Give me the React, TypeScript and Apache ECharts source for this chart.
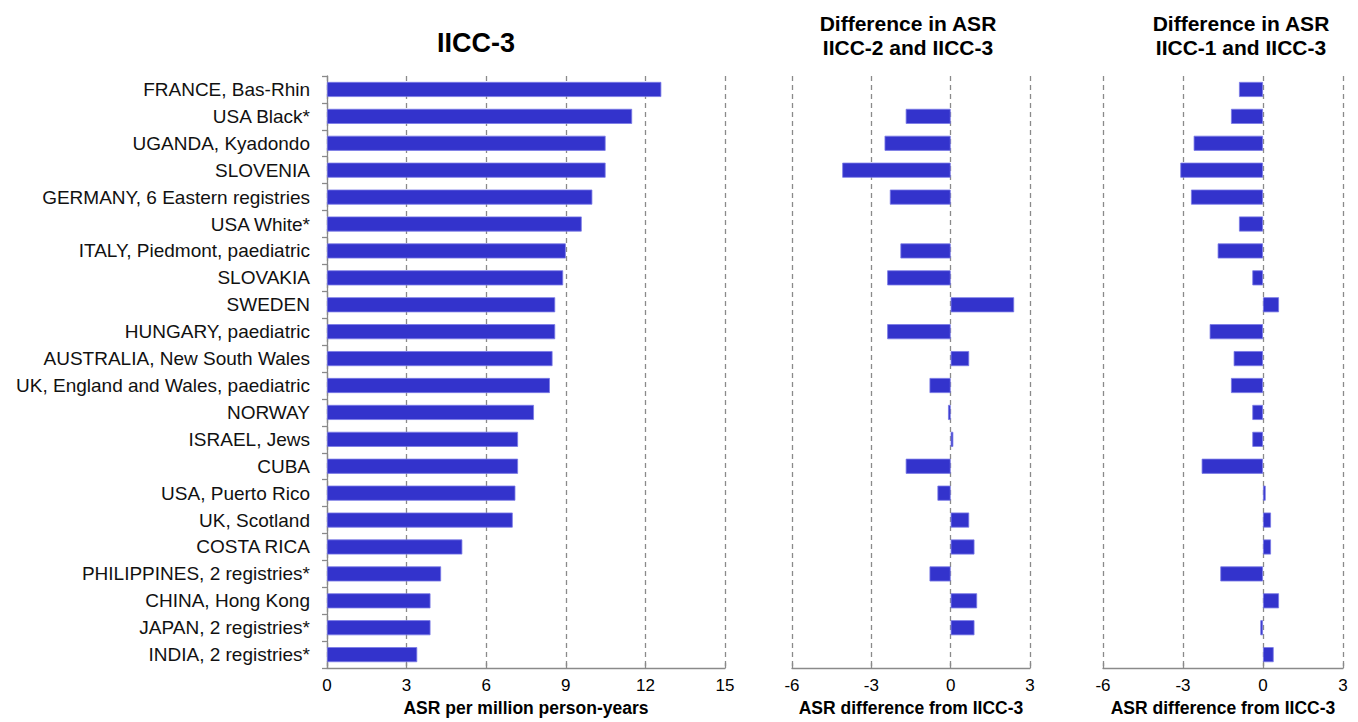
import React, { useEffect, useRef } from "react";
import * as echarts from "echarts";

const categories = [
  "FRANCE, Bas-Rhin",
  "USA Black*",
  "UGANDA, Kyadondo",
  "SLOVENIA",
  "GERMANY, 6 Eastern registries",
  "USA White*",
  "ITALY, Piedmont, paediatric",
  "SLOVAKIA",
  "SWEDEN",
  "HUNGARY, paediatric",
  "AUSTRALIA, New South Wales",
  "UK, England and Wales, paediatric",
  "NORWAY",
  "ISRAEL, Jews",
  "CUBA",
  "USA, Puerto Rico",
  "UK, Scotland",
  "COSTA RICA",
  "PHILIPPINES, 2 registries*",
  "CHINA, Hong Kong",
  "JAPAN, 2 registries*",
  "INDIA, 2 registries*",
];

const asrIICC3 = [12.6, 11.5, 10.5, 10.5, 10.0, 9.6, 9.0, 8.9, 8.6, 8.6, 8.5, 8.4, 7.8, 7.2, 7.2, 7.1, 7.0, 5.1, 4.3, 3.9, 3.9, 3.4];

const diffIICC2 = [null, -1.7, -2.5, -4.1, -2.3, null, -1.9, -2.4, 2.4, -2.4, 0.7, -0.8, -0.1, 0.1, -1.7, -0.5, 0.7, 0.9, -0.8, 1.0, 0.9, null];

const diffIICC1 = [-0.9, -1.2, -2.6, -3.1, -2.7, -0.9, -1.7, -0.4, 0.6, -2.0, -1.1, -1.2, -0.4, -0.4, -2.3, 0.1, 0.3, 0.3, -1.6, 0.6, -0.1, 0.4];

const titles = ["IICC-3", "Difference in ASR\nIICC-2 and IICC-3", "Difference in ASR\nIICC-1 and IICC-3"];
const axisNames = ["ASR per million person-years", "ASR difference from IICC-3", "ASR difference from IICC-3"];

const FONT = "'Liberation Sans', Arial, Helvetica, sans-serif";
const BAR = "#3333cc";
const GRID_GRAY = "#8a8a8a";

export default function App() {
  const ref = useRef<HTMLDivElement>(null);
  useEffect(() => {
    if (!ref.current) return;
    const chart = echarts.init(ref.current, null, { renderer: "svg" });
    const grids = [
      { left: 327, width: 398, top: 76, bottom: 49 },
      { left: 792, width: 238, top: 76, bottom: 49 },
      { left: 1103, width: 240, top: 76, bottom: 49 },
    ];
    const xRanges = [
      { min: 0, max: 15, interval: 3 },
      { min: -6, max: 3, interval: 3 },
      { min: -6, max: 3, interval: 3 },
    ];
    const seriesData = [asrIICC3, diffIICC2, diffIICC1];
    const option: any = {
      animation: false,
      backgroundColor: "#ffffff",
      textStyle: { fontFamily: FONT },
      title: [
        {
          text: titles[0],
          left: 471,
          top: 23,
          textAlign: "center",
          textStyle: { fontFamily: FONT, fontSize: 27, fontWeight: "bold", color: "#000", lineHeight: 30 },
        },
        {
          text: titles[1],
          left: 903,
          top: 6,
          textAlign: "center",
          textStyle: { fontFamily: FONT, fontSize: 21, fontWeight: "bold", color: "#000", lineHeight: 24 },
        },
        {
          text: titles[2],
          left: 1236,
          top: 6,
          textAlign: "center",
          textStyle: { fontFamily: FONT, fontSize: 21, fontWeight: "bold", color: "#000", lineHeight: 24 },
        },
      ],
      grid: grids,
      xAxis: xRanges.map((r, i) => ({
        type: "value",
        gridIndex: i,
        min: r.min,
        max: r.max,
        interval: r.interval,
        name: axisNames[i],
        nameLocation: "middle",
        nameGap: 29,
        nameTextStyle: { fontFamily: FONT, fontSize: 17.5, fontWeight: "bold", color: "#000" },
        axisLine: { show: true, lineStyle: { color: GRID_GRAY, width: 1.3 } },
        axisTick: { show: true, inside: true, length: 5, lineStyle: { color: GRID_GRAY, width: 1.3 } },
        axisLabel: { fontFamily: FONT, fontSize: 17, color: "#000", margin: 9 },
        splitLine: { show: true, lineStyle: { color: GRID_GRAY, width: 1.3, type: [5, 4] } },
      })),
      yAxis: [0, 1, 2].map((i) => ({
        type: "category",
        gridIndex: i,
        data: categories,
        inverse: true,
        show: i === 0,
        axisLine: { show: true, lineStyle: { color: GRID_GRAY, width: 1.3 } },
        axisTick: { show: true, length: 5, lineStyle: { color: GRID_GRAY, width: 1.3 } },
        axisLabel: { fontFamily: FONT, fontSize: 19, color: "#111", margin: 17 },
        splitLine: { show: false },
      })),
      series: seriesData.map((d, i) => ({
        type: "bar",
        xAxisIndex: i,
        yAxisIndex: i,
        data: d,
        barWidth: "56%",
        itemStyle: { color: BAR, borderColor: "#7a7ae6", borderWidth: 0.8 },
      })),
    };
    chart.setOption(option);
    return () => chart.dispose();
  }, []);
  return <div ref={ref} style={{ width: 1358, height: 722, position: "absolute", left: 0, top: 0 }} />;
}
